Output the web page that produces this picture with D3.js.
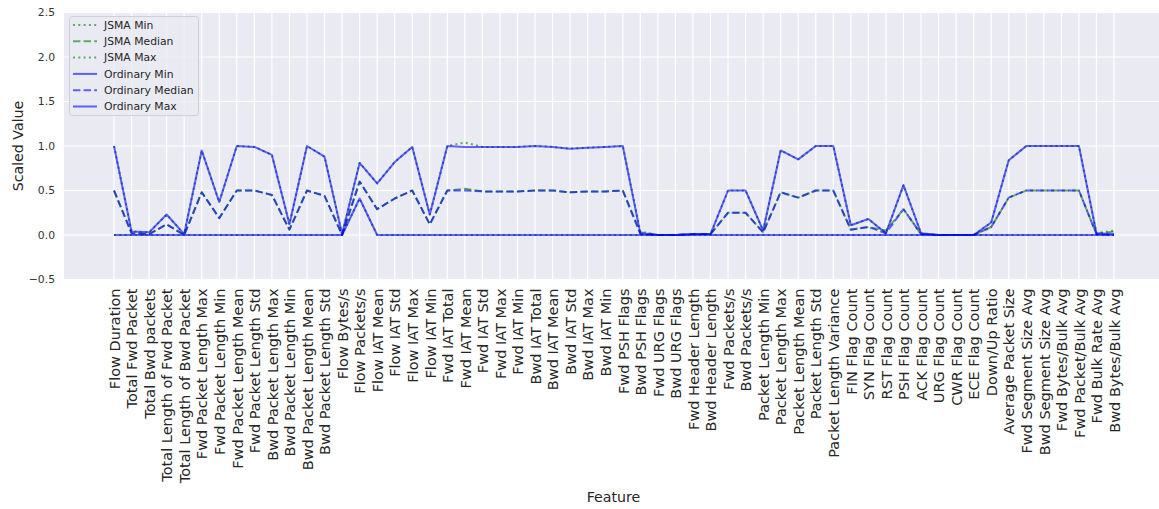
<!DOCTYPE html>
<html><head><meta charset="utf-8">
<script src="https://cdn.jsdelivr.net/npm/d3@7"></script>
<style>html,body{margin:0;padding:0;background:#fff;}svg{display:block;font-family:"DejaVu Sans",sans-serif;}</style>
</head><body><svg id="chart" width="1159" height="509"></svg>
<script>
const categories = ["Flow Duration","Total Fwd Packet","Total Bwd packets","Total Length of Fwd Packet","Total Length of Bwd Packet","Fwd Packet Length Max","Fwd Packet Length Min","Fwd Packet Length Mean","Fwd Packet Length Std","Bwd Packet Length Max","Bwd Packet Length Min","Bwd Packet Length Mean","Bwd Packet Length Std","Flow Bytes/s","Flow Packets/s","Flow IAT Mean","Flow IAT Std","Flow IAT Max","Flow IAT Min","Fwd IAT Total","Fwd IAT Mean","Fwd IAT Std","Fwd IAT Max","Fwd IAT Min","Bwd IAT Total","Bwd IAT Mean","Bwd IAT Std","Bwd IAT Max","Bwd IAT Min","Fwd PSH Flags","Bwd PSH Flags","Fwd URG Flags","Bwd URG Flags","Fwd Header Length","Bwd Header Length","Fwd Packets/s","Bwd Packets/s","Packet Length Min","Packet Length Max","Packet Length Mean","Packet Length Std","Packet Length Variance","FIN Flag Count","SYN Flag Count","RST Flag Count","PSH Flag Count","ACK Flag Count","URG Flag Count","CWR Flag Count","ECE Flag Count","Down/Up Ratio","Average Packet Size","Fwd Segment Size Avg","Bwd Segment Size Avg","Fwd Bytes/Bulk Avg","Fwd Packet/Bulk Avg","Fwd Bulk Rate Avg","Bwd Bytes/Bulk Avg"];

const ordinaryMin = [0,0,0,0,0,0,0,0,0,0,0,0,0,0,0.41,0,0,0,0,0,0,0,0,0,0,0,0,0,0,0,0,0,0,0,0,0,0,0,0,0,0,0,0,0,0,0,0,0,0,0,0,0,0,0,0,0,0,0];
const ordinaryMedian = [0.5,0.02,0.01,0.12,0.0,0.48,0.19,0.5,0.5,0.45,0.06,0.5,0.44,0.0,0.6,0.29,0.41,0.5,0.12,0.5,0.5,0.49,0.49,0.49,0.5,0.5,0.48,0.49,0.49,0.5,0.01,0.0,0.0,0.01,0.01,0.25,0.25,0.03,0.48,0.42,0.5,0.5,0.06,0.09,0.02,0.29,0.01,0.0,0.0,0.0,0.09,0.42,0.5,0.5,0.5,0.5,0.01,0.0];
const ordinaryMax = [1.0,0.04,0.03,0.23,0.01,0.95,0.37,1.0,0.99,0.9,0.12,1.0,0.88,0.01,0.81,0.58,0.82,0.99,0.23,1.0,0.99,0.99,0.99,0.99,1.0,0.99,0.97,0.98,0.99,1.0,0.02,0.0,0.0,0.01,0.01,0.5,0.5,0.05,0.95,0.85,1.0,1.0,0.11,0.18,0.02,0.56,0.02,0.0,0.0,0.0,0.14,0.84,1.0,1.0,1.0,1.0,0.02,0.01];

const jsmaMin = [0,0,0,0,0,0,0,0,0,0,0,0,0,0,0.41,0,0,0,0,0,0,0,0,0,0,0,0,0,0,0,0,0,0,0,0,0,0,0,0,0,0,0,0,0,0,0,0,0,0,0,0,0,0,0,0,0,0,0];
const jsmaMedian = [0.5,0.02,0.01,0.12,0.0,0.48,0.19,0.5,0.5,0.45,0.06,0.5,0.44,0.0,0.6,0.29,0.41,0.5,0.12,0.5,0.52,0.49,0.49,0.49,0.5,0.5,0.48,0.49,0.49,0.5,0.03,0.0,0.0,0.01,0.01,0.25,0.25,0.03,0.48,0.42,0.5,0.5,0.06,0.09,0.05,0.29,0.01,0.0,0.0,0.0,0.09,0.42,0.5,0.5,0.5,0.5,0.01,0.04];
const jsmaMax = [1.0,0.04,0.03,0.23,0.01,0.95,0.37,1.0,0.99,0.9,0.12,1.0,0.88,0.01,0.81,0.58,0.82,0.99,0.23,1.0,1.04,0.99,0.99,0.99,1.0,0.99,0.97,0.98,0.99,1.0,0.04,0.0,0.0,0.01,0.01,0.5,0.5,0.05,0.95,0.85,1.0,1.0,0.11,0.18,0.02,0.56,0.02,0.0,0.0,0.0,0.14,0.84,1.0,1.0,1.0,1.0,0.02,0.05];

const yTicks = [-0.5,0.0,0.5,1.0,1.5,2.0,2.5];

const series = [
  {name:"JSMA Min", values:jsmaMin, color:"green", dash:"2,3.3"},
  {name:"JSMA Median", values:jsmaMedian, color:"green", dash:"7.4,3.2"},
  {name:"JSMA Max", values:jsmaMax, color:"green", dash:"2,3.3"},
  {name:"Ordinary Min", values:ordinaryMin, color:"blue", dash:null},
  {name:"Ordinary Median", values:ordinaryMedian, color:"blue", dash:"7.4,3.2"},
  {name:"Ordinary Max", values:ordinaryMax, color:"blue", dash:null}
];

const svg = d3.select("#chart");
const plot = {left:64, right:1164, top:12.5, bottom:279.5};
const n = categories.length;
const pad = (n-1)*0.05;
const x = d3.scaleLinear().domain([-pad, n-1+pad]).range([plot.left, plot.right]);
const y = d3.scaleLinear().domain([-0.5, 2.5]).range([plot.bottom, plot.top]);

svg.append("rect").attr("x",0).attr("y",0).attr("width",1159).attr("height",509).attr("fill","#fff");
svg.append("rect").attr("x",plot.left).attr("y",plot.top).attr("width",plot.right-plot.left).attr("height",plot.bottom-plot.top).attr("fill","#EAEAF2");

// grid
const g = svg.append("g");
g.selectAll("line.v").data(categories).join("line")
  .attr("x1",(d,i)=>x(i)).attr("x2",(d,i)=>x(i)).attr("y1",plot.top).attr("y2",plot.bottom)
  .attr("stroke","#fff").attr("stroke-width",1.2);
g.selectAll("line.h").data(yTicks).join("line")
  .attr("x1",plot.left).attr("x2",plot.right).attr("y1",d=>y(d)).attr("y2",d=>y(d))
  .attr("stroke","#fff").attr("stroke-width",1.2);

// y axis
const yAxis = d3.axisLeft(y).tickValues(yTicks).tickSize(0).tickPadding(9).tickFormat(d=>d3.format(".1f")(d).replace("-","\u2212"));
const ya = svg.append("g").attr("transform",`translate(${plot.left},0)`).call(yAxis);
ya.select(".domain").remove();
ya.selectAll("text").attr("font-size","10.8px").attr("fill","#333").attr("font-family","DejaVu Sans");

// x axis
const xAxis = d3.axisBottom(x).tickValues(d3.range(n)).tickSize(0).tickFormat(i=>categories[i]);
const xa = svg.append("g").attr("transform",`translate(0,${plot.bottom})`).call(xAxis);
xa.select(".domain").remove();
xa.selectAll("text")
  .attr("font-size","14.5px").attr("fill","#262626").attr("font-family","DejaVu Sans")
  .attr("text-anchor","end").attr("transform","rotate(-90)")
  .attr("x",-9).attr("y",0).attr("dy","0.36em");

// lines
const line = d3.line().x((d,i)=>x(i)).y(d=>y(d));
const lg = svg.append("g");
series.forEach(s=>{
  lg.append("path").datum(s.values).attr("d",line)
    .attr("fill","none").attr("stroke",s.color).attr("stroke-opacity",0.6)
    .attr("stroke-width",2).attr("stroke-dasharray",s.dash)
    .attr("stroke-linejoin","round").attr("stroke-linecap","butt");
});

// axis labels
svg.append("text").attr("transform",`translate(23,${(plot.top+plot.bottom)/2}) rotate(-90)`)
  .attr("text-anchor","middle").attr("font-size","14.2px").attr("fill","#262626").text("Scaled Value");
svg.append("text").attr("x",613.5).attr("y",502).attr("text-anchor","middle")
  .attr("font-size","14.2px").attr("fill","#262626").text("Feature");

// legend
const leg = svg.append("g");
leg.append("rect").attr("x",69.5).attr("y",16.5).attr("width",129).attr("height",99).attr("rx",3)
  .attr("fill","#EAEAF2").attr("fill-opacity",0.8).attr("stroke","#cfcfd6").attr("stroke-width",1);
series.forEach((s,i)=>{
  const yy = 25 + i*16.3;
  leg.append("line").attr("x1",73).attr("x2",97).attr("y1",yy).attr("y2",yy)
    .attr("stroke",s.color).attr("stroke-opacity",0.6).attr("stroke-width",2).attr("stroke-dasharray",s.dash);
  leg.append("text").attr("x",104).attr("y",yy).attr("dy","0.36em").attr("font-size","10.8px")
    .attr("fill","#262626").text(s.name);
});
</script></body></html>
